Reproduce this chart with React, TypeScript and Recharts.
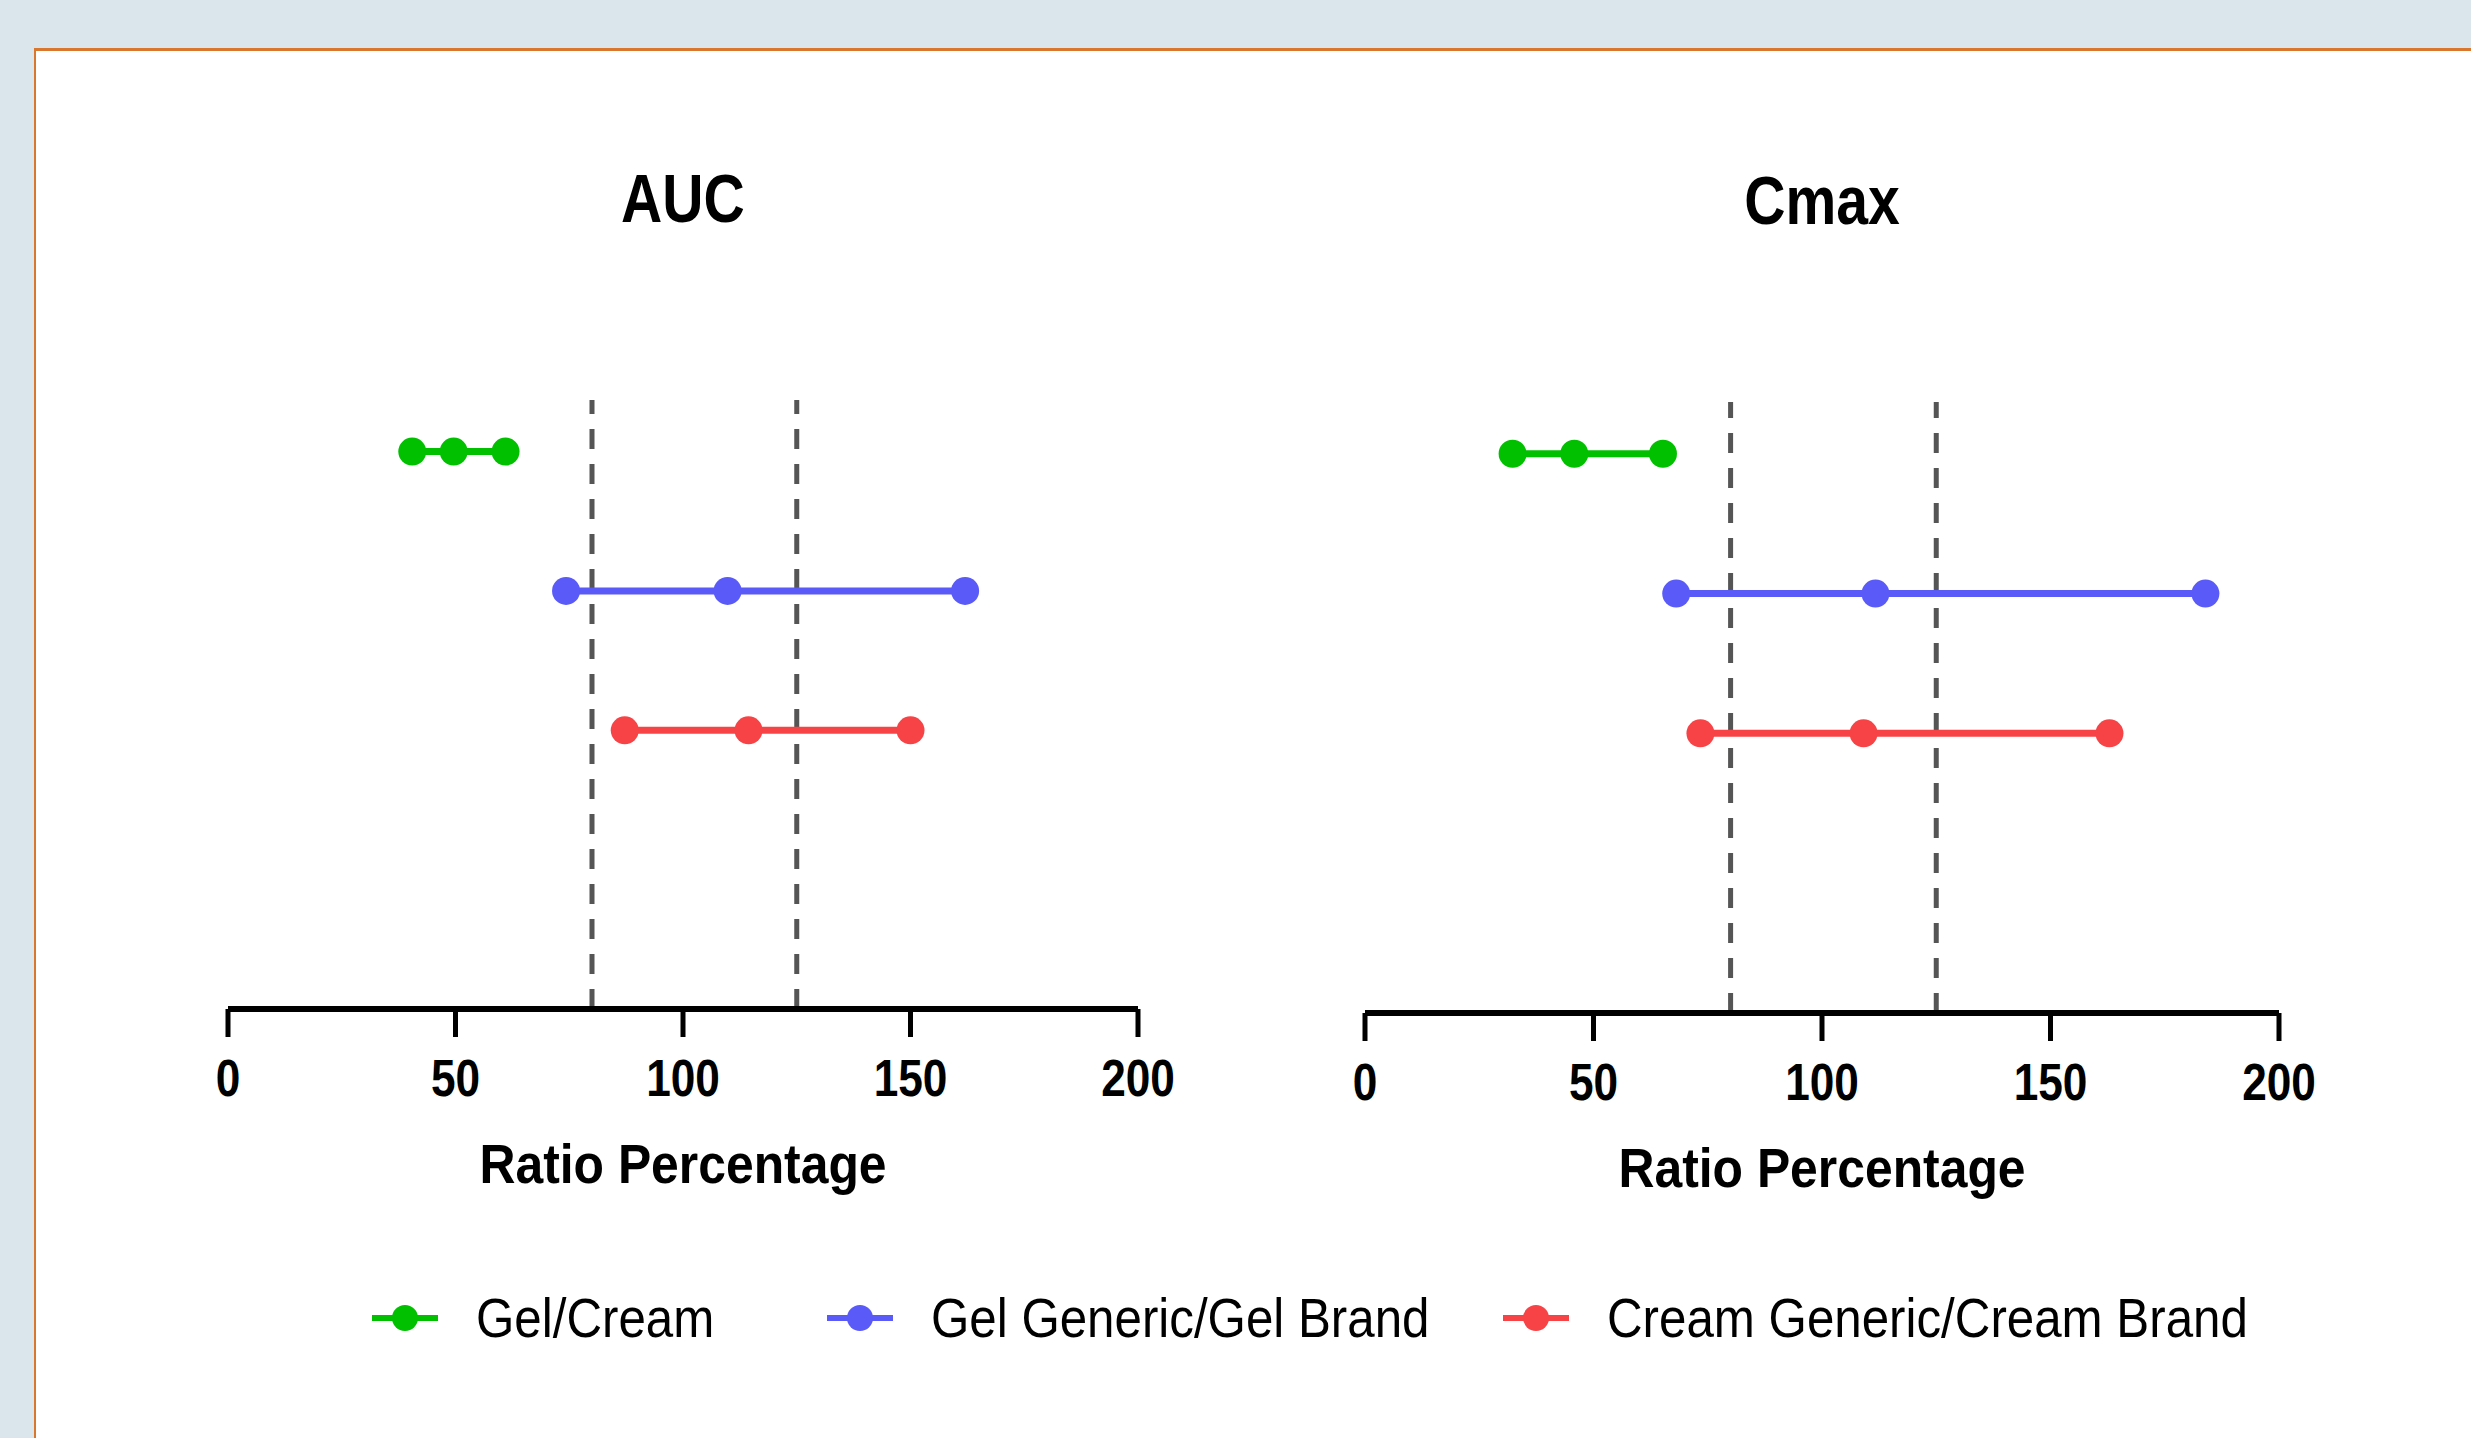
import React from "react";
import { LineChart, Line, XAxis, YAxis, ReferenceLine } from "recharts";

const seriesNames = ["Gel/Cream", "Gel Generic/Gel Brand", "Cream Generic/Cream Brand"];
const seriesColors = ["#00c000", "#5a5af8", "#f74346"];
const seriesRows = [3, 2, 1];
const xTicks = [0, 50, 100, 150, 200];
const limits = [80, 125];

// lower CI, point estimate, upper CI
const aucGelCream = [40.5, 49.6, 61.0];
const aucGelGeneric = [74.3, 109.8, 162.0];
const aucCreamGeneric = [87.2, 114.4, 150.0];
const cmaxGelCream = [32.3, 45.8, 65.2];
const cmaxGelGeneric = [68.1, 111.7, 183.9];
const cmaxCreamGeneric = [73.4, 109.1, 162.9];

const FONT = "'Liberation Sans', Arial, sans-serif";

// no narrow font installed, squeeze the normal one instead
const NarrowTick = (props: any) => {
    const { x, y, payload } = props;
    return (
        <text
            transform={`translate(${x},${y}) scale(0.85,1)`}
            textAnchor="middle"
            dy="0.71em"
            fontSize={52}
            fontWeight="bold"
            fontFamily={FONT}
            fill="#000"
        >
            {payload.value}
        </text>
    );
};

const AxisTitle = (props: any) => {
    const vb = props.viewBox || { x: 0, y: 0, width: 0, height: 0 };
    const cx = vb.x + vb.width / 2;
    const cy = vb.y + vb.height - 16;
    return (
        <text
            transform={`translate(${cx},${cy}) scale(0.89,1)`}
            textAnchor="middle"
            fontSize={56}
            fontWeight="bold"
            fontFamily={FONT}
            fill="#000"
        >
            Ratio Percentage
        </text>
    );
};

interface PanelProps {
    title: string;
    values: number[][];
    left: number;
    top: number;
    width: number;
    height: number;
}

function Panel({ title, values, left, top, width, height }: PanelProps) {
    const rows = values.map((vals, i) => vals.map((v) => ({ x: v, y: seriesRows[i] })));
    return (
        <div style={{ position: "absolute", left, top, width, height }}>
            <div
                style={{
                    position: "absolute",
                    left: 0,
                    width,
                    top: 8,
                    textAlign: "center",
                    fontFamily: FONT,
                    fontWeight: "bold",
                    fontSize: 68,
                    lineHeight: "80px",
                    color: "#000",
                    transform: "scaleX(0.84)",
                }}
            >
                {title}
            </div>
            <LineChart width={width} height={height} margin={{ top: 250, right: 100, bottom: 0, left: 100 }}>
                <XAxis
                    type="number"
                    dataKey="x"
                    domain={[0, 200]}
                    ticks={xTicks}
                    height={190}
                    stroke="#000"
                    axisLine={{ stroke: "#000", strokeWidth: 6 }}
                    tickLine={{ stroke: "#000", strokeWidth: 5 }}
                    tickSize={28}
                    tickMargin={22}
                    tick={<NarrowTick />}
                    label={{ content: <AxisTitle /> }}
                />
                <YAxis type="number" dataKey="y" domain={[-1, 3.37]} hide />
                {limits.map((l) => (
                    <ReferenceLine key={l} x={l} stroke="#555" strokeWidth={5} strokeDasharray="20 15" />
                ))}
                {rows.map((d, i) => (
                    <Line
                        key={seriesNames[i]}
                        data={d}
                        dataKey="y"
                        name={seriesNames[i]}
                        stroke={seriesColors[i]}
                        strokeWidth={7}
                        dot={{ r: 14, fill: seriesColors[i], stroke: "none" }}
                        activeDot={false}
                        isAnimationActive={false}
                    />
                ))}
            </LineChart>
        </div>
    );
}

const legendIconX = [405, 860, 1536];
const legendTextX = [476, 931, 1607];

function LegendItem({ i }: { i: number }) {
    const color = seriesColors[i];
    return (
        <>
            <svg
                width={66}
                height={30}
                style={{ position: "absolute", left: legendIconX[i] - 33, top: 1303 }}
            >
                <line x1={0} y1={15} x2={66} y2={15} stroke={color} strokeWidth={6} />
                <circle cx={33} cy={15} r={13} fill={color} />
            </svg>
            <div
                style={{
                    position: "absolute",
                    left: legendTextX[i],
                    top: 1286,
                    height: 64,
                    lineHeight: "64px",
                    fontFamily: FONT,
                    fontSize: 56,
                    color: "#000",
                    whiteSpace: "nowrap",
                    transform: "scaleX(0.88)",
                    transformOrigin: "0 50%",
                }}
            >
                {seriesNames[i]}
            </div>
        </>
    );
}

export default function App() {
    return (
        <div
            style={{
                position: "absolute",
                left: 0,
                top: 0,
                width: 2471,
                height: 1438,
                background: "#dae6ec",
                overflow: "hidden",
            }}
        >
            <div
                style={{
                    position: "absolute",
                    left: 34,
                    top: 48,
                    width: 2471,
                    height: 1438,
                    background: "#fff",
                    borderTop: "3px solid #d9772f",
                    borderLeft: "2px solid #d9772f",
                }}
            />
            <Panel
                title="AUC"
                values={[aucGelCream, aucGelGeneric, aucCreamGeneric]}
                left={128}
                top={150}
                width={1110}
                height={1049}
            />
            <Panel
                title="Cmax"
                values={[cmaxGelCream, cmaxGelGeneric, cmaxCreamGeneric]}
                left={1265}
                top={152}
                width={1114}
                height={1051}
            />
            {seriesNames.map((n, i) => (
                <LegendItem key={n} i={i} />
            ))}
        </div>
    );
}
